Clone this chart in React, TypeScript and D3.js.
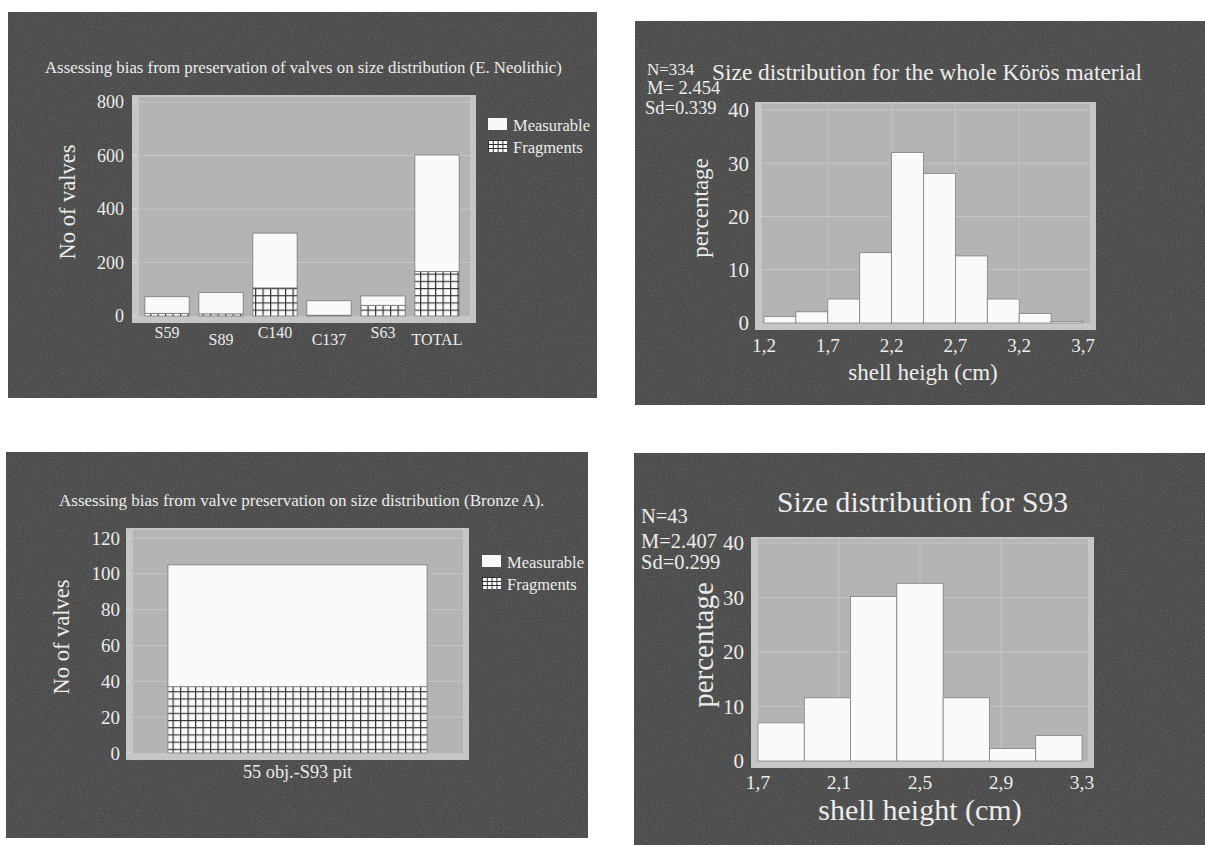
import React from 'react'
import * as d3 from 'd3'

// E. Neolithic stacked bars
const neoCategories = ['S59', 'S89', 'C140', 'C137', 'S63', 'TOTAL']
const neoFragments = [10, 8, 105, 3, 40, 166]
const neoMeasurable = [62, 80, 205, 54, 35, 436]
const neoYTicks = [0, 200, 400, 600, 800]

// Bronze A single stacked bar
const bronzeCategories = ['55 obj.-S93 pit']
const bronzeFragments = [37]
const bronzeMeasurable = [68]
const bronzeYTicks = [0, 20, 40, 60, 80, 100, 120]

// Körös histogram (percentages)
const korosPercent = [1.2, 2.1, 4.5, 13.2, 32.0, 28.1, 12.6, 4.5, 1.8, 0.3]
const korosXTicks = [1.2, 1.7, 2.2, 2.7, 3.2, 3.7]
const korosYTicks = [0, 10, 20, 30, 40]

// S93 histogram (percentages)
const s93Percent = [7.0, 11.6, 30.2, 32.6, 11.6, 2.3, 4.7]
const s93XTicks = [1.7, 2.1, 2.5, 2.9, 3.3]
const s93YTicks = [0, 10, 20, 30, 40]

const legendLabels = ['Measurable', 'Fragments']

const FONT = "'Liberation Serif', 'Times New Roman', serif"
const TXT = '#ececec'
const BG = '#414141'

const comma = (d: number) => String(d).replace('.', ',')

const Frame = ({ x0, x1, y0, y1, base, grid, yScale, ticks }: any) => (
  <g>
    <rect x={x0} y={y0} width={x1 - x0} height={y1 - y0} fill="#c6c6c8" />
    <rect x={x0 + 7} y={y0 + 2} width={x1 - x0 - 13} height={base - y0 - 2} fill="#b4b4b7" />
    {ticks.filter((t: number) => t > 0).map((t: number) => (
      <line key={t} x1={x0 + 7} x2={x1 - 6} y1={yScale(t)} y2={yScale(t)} stroke="#c4c4c6" strokeWidth={1} />
    ))}
    {grid}
  </g>
)

const Legend = ({ x, y }: any) => (
  <g fontFamily={FONT} fontSize={16.5} fill={TXT}>
    {legendLabels.map((l, i) => (
      <g key={l} transform={`translate(${x},${y + i * 22})`}>
        <rect x={0} y={0} width={19} height={12} fill={i === 0 ? '#f8f8f8' : 'url(#hatchSmall)'} />
        <text x={25} y={13}>{l}</text>
      </g>
    ))}
  </g>
)

const Backdrop = ({ r }: any) => (
  <g>
    <rect x={r[0]} y={r[1]} width={r[2]} height={r[3]} fill={BG} />
    <rect x={r[0]} y={r[1]} width={r[2]} height={r[3]} filter="url(#grain)" opacity={0.25} />
  </g>
)

const StackedPanel = (p: any) => {
  const y = d3.scaleLinear().domain(p.yDomain).range(p.yRange)
  const x = d3.scaleBand<string>().domain(p.categories).range(p.bandRange)
    .paddingInner(p.padIn).paddingOuter(p.padOut)
  const rows = p.categories.map((c: string, i: number) => ({ cat: c, fragments: p.frag[i], measurable: p.meas[i] }))
  const series = d3.stack<any>().keys(['fragments', 'measurable'])(rows)
  return (
    <g>
      <Backdrop r={p.bg} />
      <text x={p.titleX} y={p.titleY} fontFamily={FONT} fontSize={p.titleSize} fill={TXT}>{p.title}</text>
      <Frame x0={p.plot[0]} x1={p.plot[1]} y0={p.plot[2]} y1={p.plot[3]} base={y(0)} yScale={y} ticks={p.ticks} />
      {series.map((s, si) => (
        <g key={s.key}>
          {s.map((d: any) => (
            <rect key={d.data.cat} x={x(d.data.cat)} y={y(d[1])} width={x.bandwidth()}
              height={Math.max(0, y(d[0]) - y(d[1]))}
              fill={si === 0 ? 'url(#hatch)' : '#fafafa'} stroke="#777" strokeWidth={0.8} />
          ))}
        </g>
      ))}
      <g fontFamily={FONT} fontSize={p.tickSize} fill={TXT} textAnchor="end">
        {p.ticks.map((t: number) => (
          <g key={t}>
            <line x1={p.plot[0]} x2={p.plot[0] + 4} y1={y(t)} y2={y(t)} stroke="#ddd" />
            <text x={p.tickX} y={y(t)} dy="0.35em">{t}</text>
          </g>
        ))}
      </g>
      <g fontFamily={FONT} fontSize={p.catSize} fill={TXT} textAnchor="middle">
        {p.categories.map((c: string, i: number) => (
          <text key={c} x={(x(c) as number) + x.bandwidth() / 2} y={p.catY[i % p.catY.length]}>{c}</text>
        ))}
      </g>
      <text transform={`translate(${p.yLabel[0]},${p.yLabel[1]}) rotate(-90)`} textAnchor="middle"
        dy="0.35em" fontFamily={FONT} fontSize={22.5} fill={TXT}>No of valves</text>
      <Legend x={p.legend[0]} y={p.legend[1]} />
    </g>
  )
}

const HistPanel = (p: any) => {
  const y = d3.scaleLinear().domain([0, 40]).range(p.yRange)
  const x = d3.scaleLinear().domain(p.xDomain).range(p.xRange)
  const b = d3.scaleBand<number>().domain(d3.range(p.values.length)).range([x(p.xDomain[0]), x(p.xDomain[1])])
  const grid = p.xTicks.slice(1, -1).map((t: number) => (
    <line key={t} x1={x(t)} x2={x(t)} y1={p.plot[2] + 2} y2={y(0)} stroke="#c4c4c6" />
  ))
  return (
    <g>
      <Backdrop r={p.bg} />
      <Frame x0={p.plot[0]} x1={p.plot[1]} y0={p.plot[2]} y1={p.plot[3]} base={y(0)} yScale={y} ticks={p.yTicks} grid={grid} />
      {p.values.map((v: number, i: number) => (
        <rect key={i} x={b(i)} y={y(v)} width={b.bandwidth()} height={y(0) - y(v)}
          fill="#fafafa" stroke="#808080" strokeWidth={0.8} />
      ))}
      <g fontFamily={FONT} fill={TXT}>
        {p.yTicks.map((t: number) => (
          <text key={t} x={p.yTickX} y={y(t)} dy="0.35em" textAnchor="end" fontSize={p.yTickSize}>{t}</text>
        ))}
        {p.xTicks.map((t: number) => (
          <text key={t} x={x(t)} y={p.xTickY} textAnchor="middle" fontSize={p.xTickSize}>{comma(t)}</text>
        ))}
      </g>
      <g fontFamily={FONT} fill={TXT}>
        {p.stats.map((s: string, i: number) => (
          <text key={s} x={p.statsX[i]} y={p.statsY[i]} fontSize={p.statsSize[i]}>{s}</text>
        ))}
        <text x={p.titleX} y={p.titleY} fontSize={p.titleSize}>{p.title}</text>
        <text transform={`translate(${p.yLabel[0]},${p.yLabel[1]}) rotate(-90)`} textAnchor="middle" dy="0.35em"
          fontSize={p.yLabelSize}>percentage</text>
        <text x={p.xLabel[0]} y={p.xLabel[1]} textAnchor="middle" fontSize={p.xLabelSize}>{p.xLabelText}</text>
      </g>
    </g>
  )
}

export default function App() {
  return (
    <svg width={1205} height={845} style={{ position: 'absolute', left: 0, top: 0, background: '#fff' }}>
      <defs>
        <pattern id="hatch" width={7.5} height={7.2} patternUnits="userSpaceOnUse">
          <rect width={7.5} height={7.2} fill="#fafafa" />
          <path d="M0 0.6H7.5M0.6 0V7.2" stroke="#333" strokeWidth={1.2} />
        </pattern>
        <pattern id="hatchSmall" width={4.8} height={4} patternUnits="userSpaceOnUse">
          <rect width={4.8} height={4} fill="#fafafa" />
          <path d="M0 0.5H4.8M0.5 0V4" stroke="#333" strokeWidth={1} />
        </pattern>
        <filter id="grain" x="0" y="0" width="100%" height="100%">
          <feTurbulence type="fractalNoise" baseFrequency="0.85" numOctaves={2} seed={3} />
          <feColorMatrix type="saturate" values="0" />
        </filter>
      </defs>

      <StackedPanel
        bg={[8, 12, 589, 386]}
        title="Assessing bias from preservation of valves on size distribution (E. Neolithic)"
        titleX={45} titleY={73} titleSize={16.8}
        plot={[132, 476, 95, 323]}
        yDomain={[0, 800]} yRange={[316, 102]} ticks={neoYTicks}
        bandRange={[140, 464]} padIn={0.18} padOut={0.09}
        categories={neoCategories} frag={neoFragments} meas={neoMeasurable}
        tickX={124} tickSize={18} catSize={16} catY={[338, 345]}
        yLabel={[67, 202]} legend={[488, 118]}
      />

      <HistPanel
        bg={[635, 21, 570, 384]}
        plot={[755, 1096, 102, 330]}
        yRange={[323, 110]} xDomain={[1.2, 3.7]} xRange={[764, 1083]}
        values={korosPercent} xTicks={korosXTicks} yTicks={korosYTicks}
        yTickSize={21} xTickSize={19} yTickX={749} xTickY={352}
        stats={['N=334', 'M= 2.454', 'Sd=0.339']} statsX={[647, 647, 645]} statsY={[75, 94, 114]}
        statsSize={[17, 18.5, 18.5]}
        title="Size distribution for the whole Körös material" titleX={712} titleY={80} titleSize={23.4}
        yLabel={[700, 208]} yLabelSize={23} xLabel={[923, 380]} xLabelText="shell heigh (cm)" xLabelSize={23}
      />

      <StackedPanel
        bg={[6, 452, 582, 386]}
        title="Assessing bias from valve preservation on size distribution (Bronze A)."
        titleX={59} titleY={506} titleSize={17}
        plot={[126, 469, 528, 760]}
        yDomain={[0, 120]} yRange={[753, 538]} ticks={bronzeYTicks}
        bandRange={[135, 460]} padIn={0} padOut={0.127}
        categories={bronzeCategories} frag={bronzeFragments} meas={bronzeMeasurable}
        tickX={120} tickSize={19} catSize={18.3} catY={[778]}
        yLabel={[61, 637]} legend={[482, 555]}
      />

      <HistPanel
        bg={[634, 453, 571, 392]}
        plot={[751, 1094, 537, 768]}
        yRange={[761, 543]} xDomain={[1.7, 3.3]} xRange={[758, 1082]}
        values={s93Percent} xTicks={s93XTicks} yTicks={s93YTicks}
        yTickSize={21} xTickSize={19.5} yTickX={744} xTickY={789}
        stats={['N=43', 'M=2.407', 'Sd=0.299']} statsX={[641, 641, 641]} statsY={[523, 548, 569]}
        statsSize={[20.5, 20.5, 20.5]}
        title="Size distribution for S93" titleX={777} titleY={512} titleSize={29.7}
        yLabel={[703, 645]} yLabelSize={29} xLabel={[920, 820]} xLabelText="shell height (cm)" xLabelSize={30}
      />
    </svg>
  )
}
